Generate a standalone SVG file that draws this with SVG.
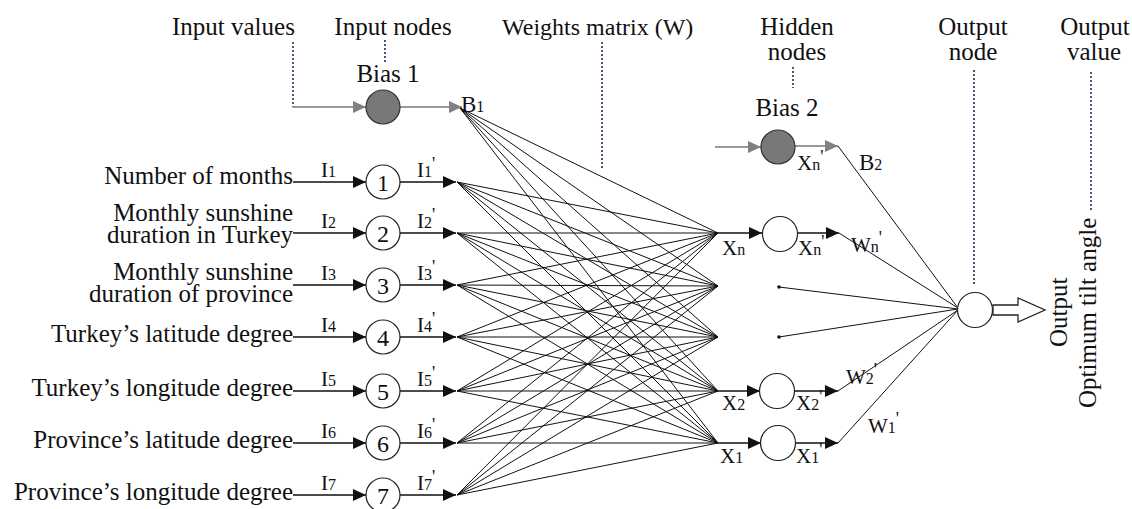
<svg xmlns="http://www.w3.org/2000/svg" width="1132" height="509" viewBox="0 0 1132 509">
  <style>
    text { font-family: "Liberation Serif", "Times New Roman", serif; fill: #111; }
    .lbl { font-size: 25px; }
    .sm { font-size: 21px; }
    .num { font-size: 24px; text-anchor: middle; }
    .sub { font-size: 16px; }
    .pr { font-size: 18px; }
    .end { text-anchor: end; }
    .mid { text-anchor: middle; }
    .dot { stroke: #1d2d55; stroke-width: 1.6; stroke-dasharray: 2 2; fill: none; }
    .wire { stroke: #111; stroke-width: 1.3; fill: none; }
    .fan { stroke: #111; stroke-width: 1; fill: none; }
    .gwire { stroke: #777; stroke-width: 1.6; fill: none; }
    .node { fill: #fff; stroke: #222; stroke-width: 1.2; }
    .bias { fill: #787878; stroke: #333; stroke-width: 1.2; }
  </style>
  <defs>
    <marker id="ah" markerUnits="userSpaceOnUse" markerWidth="14" markerHeight="12" refX="13" refY="6" orient="auto">
      <path d="M0,0 L13,6 L0,12 Z" fill="#111"/>
    </marker>
    <marker id="gah" markerUnits="userSpaceOnUse" markerWidth="14" markerHeight="12" refX="13" refY="6" orient="auto">
      <path d="M0,0 L13,6 L0,12 Z" fill="#808080"/>
    </marker>
  </defs>

  <rect width="1132" height="509" fill="#fff"/>

  <!-- column headings with dotted leaders -->
  <g id="headings">
    <text class="lbl" x="172" y="35">Input values</text>
    <text class="lbl mid" x="393" y="35">Input nodes</text>
    <text class="lbl" x="502" y="35" style="font-size:24px">Weights matrix (W)</text>
    <text class="lbl mid" x="797" y="35">Hidden</text>
    <text class="lbl mid" x="797" y="60">nodes</text>
    <text class="lbl mid" x="973" y="35">Output</text>
    <text class="lbl mid" x="973" y="60">node</text>
    <text class="lbl mid" x="1095" y="35">Output</text>
    <text class="lbl mid" x="1094" y="60">value</text>
    <path class="dot" d="M293,42 V107"/>
    <path class="dot" d="M385,40 V62"/>
    <path class="dot" d="M602,42 V168"/>
    <path class="dot" d="M793,67 V88"/>
    <path class="dot" d="M974,70 V285"/>
    <path class="dot" d="M1091,72 V212"/>
  </g>

  <!-- input value labels (two-line labels set tight, as in the figure) -->
  <g id="input-labels">
    <text class="lbl end" x="293" y="184">Number of months</text>
    <text class="lbl end"><tspan x="293" y="221">Monthly sunshine</tspan><tspan x="293" y="243">duration in Turkey</tspan></text>
    <text class="lbl end"><tspan x="293" y="280">Monthly sunshine</tspan><tspan x="293" y="302">duration of province</tspan></text>
    <text class="lbl end" x="293" y="342">Turkey’s latitude degree</text>
    <text class="lbl end" x="293" y="396">Turkey’s longitude degree</text>
    <text class="lbl end" x="293" y="448">Province’s latitude degree</text>
    <text class="lbl end" x="293" y="500">Province’s longitude degree</text>
  </g>

  <!-- connectors -->
  <g id="connectors">
    <!-- bias 1 feed -->
    <path class="gwire" d="M293,107 H366" marker-end="url(#gah)"/>
    <path class="gwire" d="M400,107 H462" marker-end="url(#gah)"/>
    <!-- inputs into input nodes -->
    <path class="wire" d="M293,182 H366" marker-end="url(#ah)"/>
    <path class="wire" d="M293,233 H366" marker-end="url(#ah)"/>
    <path class="wire" d="M293,285 H366" marker-end="url(#ah)"/>
    <path class="wire" d="M293,337 H366" marker-end="url(#ah)"/>
    <path class="wire" d="M293,391 H366" marker-end="url(#ah)"/>
    <path class="wire" d="M293,443 H366" marker-end="url(#ah)"/>
    <path class="wire" d="M293,495 H366" marker-end="url(#ah)"/>
    <!-- input node outputs -->
    <path class="wire" d="M400,182 H456" marker-end="url(#ah)"/>
    <path class="wire" d="M400,233 H456" marker-end="url(#ah)"/>
    <path class="wire" d="M400,285 H456" marker-end="url(#ah)"/>
    <path class="wire" d="M400,337 H456" marker-end="url(#ah)"/>
    <path class="wire" d="M400,391 H456" marker-end="url(#ah)"/>
    <path class="wire" d="M400,443 H456" marker-end="url(#ah)"/>
    <path class="wire" d="M400,495 H456" marker-end="url(#ah)"/>
    <!-- weights matrix: every source to every hidden sum point -->
    <path class="fan" d="M460,108 L718,233 M460,108 L718,286 M460,108 L718,337 M460,108 L718,391 M460,108 L718,443"/>
    <path class="fan" d="M457,182 L718,233 M457,182 L718,286 M457,182 L718,337 M457,182 L718,391 M457,182 L718,443"/>
    <path class="fan" d="M457,233 L718,233 M457,233 L718,286 M457,233 L718,337 M457,233 L718,391 M457,233 L718,443"/>
    <path class="fan" d="M457,285 L718,233 M457,285 L718,286 M457,285 L718,337 M457,285 L718,391 M457,285 L718,443"/>
    <path class="fan" d="M457,337 L718,233 M457,337 L718,286 M457,337 L718,337 M457,337 L718,391 M457,337 L718,443"/>
    <path class="fan" d="M457,391 L718,233 M457,391 L718,286 M457,391 L718,337 M457,391 L718,391 M457,391 L718,443"/>
    <path class="fan" d="M457,443 L718,233 M457,443 L718,286 M457,443 L718,337 M457,443 L718,391 M457,443 L718,443"/>
    <path class="fan" d="M457,495 L718,233 M457,495 L718,286 M457,495 L718,337 M457,495 L718,391 M457,495 L718,443"/>
    <!-- into hidden nodes -->
    <path class="wire" d="M718,233 H762" marker-end="url(#ah)"/>
    <path class="wire" d="M718,391 H760" marker-end="url(#ah)"/>
    <path class="wire" d="M718,443 H761" marker-end="url(#ah)"/>
    <!-- bias 2 feed -->
    <path class="gwire" d="M715,147 H761" marker-end="url(#gah)"/>
    <path class="gwire" d="M795,146 H838" marker-end="url(#gah)"/>
    <!-- hidden node outputs -->
    <path class="wire" d="M797,233 H839" marker-end="url(#ah)"/>
    <path class="wire" d="M795,391 H838" marker-end="url(#ah)"/>
    <path class="wire" d="M796,443 H838" marker-end="url(#ah)"/>
    <!-- weighted links into output node -->
    <path class="fan" d="M838,146 L958,308"/>
    <path class="fan" d="M839,233 L958,308"/>
    <path class="fan" d="M779,287 L958,309"/>
    <path class="fan" d="M779,337 L958,309"/>
    <path class="fan" d="M838,391 L958,310"/>
    <path class="fan" d="M838,443 L958,310"/>
    <circle cx="779" cy="287" r="1.8" fill="#111"/>
    <circle cx="779" cy="337" r="1.8" fill="#111"/>
    <!-- output block arrow -->
    <path d="M993,305 H1018 V298 L1045,310 L1018,322 V315 H993 Z" fill="#fff" stroke="#222" stroke-width="1.3"/>
  </g>

  <!-- input layer -->
  <g id="bias1">
    <text class="lbl mid" x="388" y="82">Bias 1</text>
    <circle class="bias" cx="383" cy="107" r="17"/>
    <text class="sm" x="461" y="112" style="font-size:23px">B<tspan class="sub">1</tspan></text>
  </g>
  <g id="in1">
    <circle class="node" cx="383" cy="182" r="17"/>
    <text class="num" x="383" y="191">1</text>
    <text class="sm" x="321" y="177">I<tspan class="sub">1</tspan></text>
    <text class="sm" x="417" y="177">I<tspan class="sub">1</tspan><tspan class="pr" dy="-7">'</tspan></text>
  </g>
  <g id="in2">
    <circle class="node" cx="383" cy="233" r="17"/>
    <text class="num" x="383" y="242">2</text>
    <text class="sm" x="321" y="228">I<tspan class="sub">2</tspan></text>
    <text class="sm" x="417" y="228">I<tspan class="sub">2</tspan><tspan class="pr" dy="-7">'</tspan></text>
  </g>
  <g id="in3">
    <circle class="node" cx="383" cy="285" r="17"/>
    <text class="num" x="383" y="294">3</text>
    <text class="sm" x="321" y="280">I<tspan class="sub">3</tspan></text>
    <text class="sm" x="417" y="280">I<tspan class="sub">3</tspan><tspan class="pr" dy="-7">'</tspan></text>
  </g>
  <g id="in4">
    <circle class="node" cx="383" cy="337" r="17"/>
    <text class="num" x="383" y="346">4</text>
    <text class="sm" x="321" y="332">I<tspan class="sub">4</tspan></text>
    <text class="sm" x="417" y="332">I<tspan class="sub">4</tspan><tspan class="pr" dy="-7">'</tspan></text>
  </g>
  <g id="in5">
    <circle class="node" cx="383" cy="391" r="17"/>
    <text class="num" x="383" y="400">5</text>
    <text class="sm" x="321" y="386">I<tspan class="sub">5</tspan></text>
    <text class="sm" x="417" y="386">I<tspan class="sub">5</tspan><tspan class="pr" dy="-7">'</tspan></text>
  </g>
  <g id="in6">
    <circle class="node" cx="383" cy="443" r="17"/>
    <text class="num" x="383" y="452">6</text>
    <text class="sm" x="321" y="438">I<tspan class="sub">6</tspan></text>
    <text class="sm" x="417" y="438">I<tspan class="sub">6</tspan><tspan class="pr" dy="-7">'</tspan></text>
  </g>
  <g id="in7">
    <circle class="node" cx="383" cy="495" r="17"/>
    <text class="num" x="383" y="504">7</text>
    <text class="sm" x="321" y="490">I<tspan class="sub">7</tspan></text>
    <text class="sm" x="417" y="490">I<tspan class="sub">7</tspan><tspan class="pr" dy="-7">'</tspan></text>
  </g>

  <!-- hidden layer -->
  <g id="bias2">
    <text class="lbl mid" x="787" y="116">Bias 2</text>
    <circle class="bias" cx="778" cy="147" r="17"/>
    <text class="sm" x="797" y="170">X<tspan class="sub">n</tspan><tspan class="pr" dy="-7">'</tspan></text>
    <text class="sm" x="859" y="170" style="font-size:23px">B<tspan class="sub">2</tspan></text>
  </g>
  <g id="hn">
    <circle class="node" cx="780" cy="234" r="17.5"/>
    <text class="sm" x="722" y="255">X<tspan class="sub">n</tspan></text>
    <text class="sm" x="798" y="255">X<tspan class="sub">n</tspan><tspan class="pr" dy="-7">'</tspan></text>
    <text class="sm" x="851" y="252">W<tspan class="sub">n</tspan><tspan class="pr" dy="-8">'</tspan></text>
  </g>
  <g id="h2">
    <circle class="node" cx="777" cy="391" r="17.5"/>
    <text class="sm" x="722" y="410">X<tspan class="sub">2</tspan></text>
    <text class="sm" x="796" y="410">X<tspan class="sub">2</tspan><tspan class="pr" dy="-7">'</tspan></text>
    <text class="sm" x="846" y="384">W<tspan class="sub">2</tspan><tspan class="pr" dy="-8">'</tspan></text>
  </g>
  <g id="h1">
    <circle class="node" cx="778" cy="443" r="17.5"/>
    <text class="sm" x="720" y="463">X<tspan class="sub">1</tspan></text>
    <text class="sm" x="796" y="463">X<tspan class="sub">1</tspan><tspan class="pr" dy="-7">'</tspan></text>
    <text class="sm" x="868" y="433">W<tspan class="sub">1</tspan><tspan class="pr" dy="-8">'</tspan></text>
  </g>

  <!-- output layer -->
  <g id="output">
    <circle class="node" cx="975" cy="310" r="17.5"/>
    <text class="lbl" transform="translate(1067,347) rotate(-90)">Output</text>
    <text class="lbl" transform="translate(1096,408) rotate(-90)">Optimum tilt angle</text>
  </g>
</svg>
